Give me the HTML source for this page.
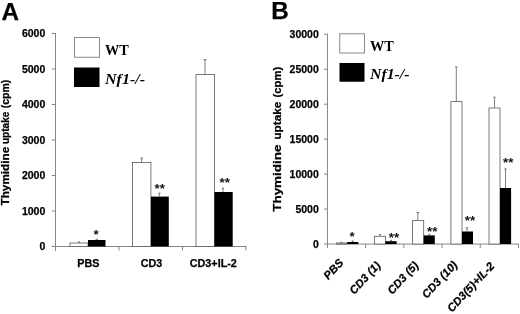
<!DOCTYPE html>
<html><head><meta charset="utf-8"><title>Figure</title>
<style>
html,body{margin:0;padding:0;background:#fff;}
svg{display:block}
.s{font-family:"Liberation Sans",Arial,sans-serif;font-weight:bold;fill:#000;stroke:#000;stroke-width:0.25px}
.si{font-family:"Liberation Sans",Arial,sans-serif;font-weight:bold;font-style:italic;fill:#000;stroke:#000;stroke-width:0.25px}
.st{font-family:"Liberation Sans",Arial,sans-serif;font-weight:bold;fill:#111}
.se{font-family:"Liberation Serif","DejaVu Serif",serif;font-weight:bold;fill:#000}
.sei{font-family:"Liberation Serif","DejaVu Serif",serif;font-weight:bold;font-style:italic;fill:#000}
</style></head><body>
<svg width="520" height="314" viewBox="0 0 520 314">
<rect width="520" height="314" fill="#fff"/>
<line x1="55.5" y1="33" x2="55.5" y2="251" stroke="#858585" stroke-width="1"/>
<line x1="55.5" y1="246.5" x2="246.5" y2="246.5" stroke="#858585" stroke-width="1"/>
<line x1="51.7" y1="246.5" x2="55.5" y2="246.5" stroke="#858585" stroke-width="1"/>
<text x="45.3" y="250.3" font-size="10.5" text-anchor="end" class="s" >0</text>
<line x1="51.7" y1="211.0" x2="55.5" y2="211.0" stroke="#858585" stroke-width="1"/>
<text x="45.3" y="214.8" font-size="10.5" text-anchor="end" class="s" >1000</text>
<line x1="51.7" y1="175.5" x2="55.5" y2="175.5" stroke="#858585" stroke-width="1"/>
<text x="45.3" y="179.3" font-size="10.5" text-anchor="end" class="s" >2000</text>
<line x1="51.7" y1="140.0" x2="55.5" y2="140.0" stroke="#858585" stroke-width="1"/>
<text x="45.3" y="143.8" font-size="10.5" text-anchor="end" class="s" >3000</text>
<line x1="51.7" y1="104.5" x2="55.5" y2="104.5" stroke="#858585" stroke-width="1"/>
<text x="45.3" y="108.3" font-size="10.5" text-anchor="end" class="s" >4000</text>
<line x1="51.7" y1="69.0" x2="55.5" y2="69.0" stroke="#858585" stroke-width="1"/>
<text x="45.3" y="72.8" font-size="10.5" text-anchor="end" class="s" >5000</text>
<line x1="51.7" y1="33.5" x2="55.5" y2="33.5" stroke="#858585" stroke-width="1"/>
<text x="45.3" y="37.3" font-size="10.5" text-anchor="end" class="s" >6000</text>
<line x1="119" y1="246.5" x2="119" y2="250.5" stroke="#858585" stroke-width="1"/>
<line x1="182.5" y1="246.5" x2="182.5" y2="250.5" stroke="#858585" stroke-width="1"/>
<line x1="246" y1="246.5" x2="246" y2="250.5" stroke="#858585" stroke-width="1"/>
<rect x="70" y="243" width="18.00" height="3.50" fill="#fff" stroke="#5a5a5a" stroke-width="0.8"/>
<rect x="88" y="240" width="17.50" height="6.50" fill="#000"/>
<rect x="132.5" y="162.5" width="18.40" height="84.00" fill="#fff" stroke="#5a5a5a" stroke-width="0.8"/>
<rect x="150.9" y="196.6" width="17.90" height="49.90" fill="#000"/>
<rect x="196" y="74.4" width="18.40" height="172.10" fill="#fff" stroke="#5a5a5a" stroke-width="0.8"/>
<rect x="214.4" y="192" width="18.30" height="54.50" fill="#000"/>
<line x1="79" y1="243" x2="79" y2="242" stroke="#606060" stroke-width="0.8"/>
<line x1="78" y1="242" x2="80" y2="242" stroke="#606060" stroke-width="0.9"/>
<line x1="96.7" y1="240" x2="96.7" y2="239.3" stroke="#606060" stroke-width="0.8"/>
<line x1="95.7" y1="239.3" x2="97.7" y2="239.3" stroke="#606060" stroke-width="0.9"/>
<line x1="141.6" y1="162.5" x2="141.6" y2="158" stroke="#606060" stroke-width="0.8"/>
<line x1="140.4" y1="158" x2="142.79999999999998" y2="158" stroke="#606060" stroke-width="0.9"/>
<line x1="159.3" y1="196.6" x2="159.3" y2="193.2" stroke="#606060" stroke-width="0.8"/>
<line x1="158.10000000000002" y1="193.2" x2="160.5" y2="193.2" stroke="#606060" stroke-width="0.9"/>
<line x1="205" y1="74.4" x2="205" y2="59.7" stroke="#606060" stroke-width="0.8"/>
<line x1="203.5" y1="59.7" x2="206.5" y2="59.7" stroke="#606060" stroke-width="0.9"/>
<line x1="223" y1="192" x2="223" y2="188.2" stroke="#606060" stroke-width="0.8"/>
<line x1="221.8" y1="188.2" x2="224.2" y2="188.2" stroke="#606060" stroke-width="0.9"/>
<text x="96" y="238.6" font-size="13.3" text-anchor="middle" class="st" >*</text>
<text x="159.8" y="192.8" font-size="13.3" text-anchor="middle" class="st" >**</text>
<text x="224.75" y="186.8" font-size="13.3" text-anchor="middle" class="st" >**</text>
<text x="88.4" y="267.2" font-size="10.8" text-anchor="middle" class="s" >PBS</text>
<text x="151.5" y="267.2" font-size="10.8" text-anchor="middle" class="s" >CD3</text>
<text x="213.3" y="267.2" font-size="10.8" text-anchor="middle" class="s" >CD3+IL-2</text>
<text transform="translate(8.65,205.5) rotate(-90)" font-size="10.6" class="s" textLength="58.8" lengthAdjust="spacingAndGlyphs">Thymidine</text>
<text transform="translate(8.65,144) rotate(-90)" font-size="10.6" class="s" textLength="32.3" lengthAdjust="spacingAndGlyphs">uptake</text>
<text transform="translate(8.65,108.3) rotate(-90)" font-size="10.6" class="s" textLength="28.5" lengthAdjust="spacingAndGlyphs">(cpm)</text>
<text x="1.6" y="19.6" font-size="24.3" text-anchor="start" class="s" >A</text>
<rect x="74.5" y="37.5" width="25" height="19.75" fill="#fff" stroke="#8a8a8a"/>
<rect x="74" y="67.5" width="25.5" height="19.5" fill="#000"/>
<text x="105" y="54.75" font-size="14" text-anchor="start" class="se" textLength="23.8" lengthAdjust="spacingAndGlyphs">WT</text>
<text x="105" y="84" font-size="14" text-anchor="start" class="sei" textLength="40" lengthAdjust="spacingAndGlyphs">Nf1-/-</text>
<line x1="327.45" y1="33.8" x2="327.45" y2="248" stroke="#858585" stroke-width="1"/>
<line x1="327.45" y1="244.05" x2="518.7" y2="244.05" stroke="#858585" stroke-width="1"/>
<line x1="324" y1="244.05" x2="327.45" y2="244.05" stroke="#858585" stroke-width="1"/>
<text x="318.8" y="248.05" font-size="11.3" text-anchor="end" class="s" textLength="5.8" lengthAdjust="spacingAndGlyphs">0</text>
<line x1="324" y1="209.09" x2="327.45" y2="209.09" stroke="#858585" stroke-width="1"/>
<text x="318.8" y="213.09" font-size="11.3" text-anchor="end" class="s" textLength="23.4" lengthAdjust="spacingAndGlyphs">5000</text>
<line x1="324" y1="174.13" x2="327.45" y2="174.13" stroke="#858585" stroke-width="1"/>
<text x="318.8" y="178.13" font-size="11.3" text-anchor="end" class="s" textLength="29.2" lengthAdjust="spacingAndGlyphs">10000</text>
<line x1="324" y1="139.17000000000002" x2="327.45" y2="139.17000000000002" stroke="#858585" stroke-width="1"/>
<text x="318.8" y="143.17000000000002" font-size="11.3" text-anchor="end" class="s" textLength="29.2" lengthAdjust="spacingAndGlyphs">15000</text>
<line x1="324" y1="104.21000000000001" x2="327.45" y2="104.21000000000001" stroke="#858585" stroke-width="1"/>
<text x="318.8" y="108.21000000000001" font-size="11.3" text-anchor="end" class="s" textLength="29.2" lengthAdjust="spacingAndGlyphs">20000</text>
<line x1="324" y1="69.25" x2="327.45" y2="69.25" stroke="#858585" stroke-width="1"/>
<text x="318.8" y="73.25" font-size="11.3" text-anchor="end" class="s" textLength="29.2" lengthAdjust="spacingAndGlyphs">25000</text>
<line x1="324" y1="34.29000000000002" x2="327.45" y2="34.29000000000002" stroke="#858585" stroke-width="1"/>
<text x="318.8" y="38.29000000000002" font-size="11.3" text-anchor="end" class="s" textLength="29.2" lengthAdjust="spacingAndGlyphs">30000</text>
<line x1="365.65" y1="244.05" x2="365.65" y2="248" stroke="#858585" stroke-width="1"/>
<line x1="403.85" y1="244.05" x2="403.85" y2="248" stroke="#858585" stroke-width="1"/>
<line x1="442.05" y1="244.05" x2="442.05" y2="248" stroke="#858585" stroke-width="1"/>
<line x1="480.25" y1="244.05" x2="480.25" y2="248" stroke="#858585" stroke-width="1"/>
<line x1="518.45" y1="244.05" x2="518.45" y2="248" stroke="#858585" stroke-width="1"/>
<rect x="336.3" y="243" width="10.90" height="1.05" fill="#fff" stroke="#5a5a5a" stroke-width="0.8"/>
<rect x="347.2" y="242" width="11.10" height="2.05" fill="#000"/>
<rect x="374.5" y="236.3" width="10.90" height="7.75" fill="#fff" stroke="#5a5a5a" stroke-width="0.8"/>
<rect x="385.4" y="241.2" width="11.20" height="2.85" fill="#000"/>
<rect x="412.6" y="220.4" width="11.10" height="23.65" fill="#fff" stroke="#5a5a5a" stroke-width="0.8"/>
<rect x="423.7" y="235.4" width="11.10" height="8.65" fill="#000"/>
<rect x="450.9" y="101.6" width="11.10" height="142.45" fill="#fff" stroke="#5a5a5a" stroke-width="0.8"/>
<rect x="462" y="231.5" width="11.00" height="12.55" fill="#000"/>
<rect x="489" y="108" width="11.00" height="136.05" fill="#fff" stroke="#5a5a5a" stroke-width="0.8"/>
<rect x="500" y="188" width="11.10" height="56.05" fill="#000"/>
<line x1="341.5" y1="243" x2="341.5" y2="242.3" stroke="#606060" stroke-width="0.8"/>
<line x1="340.5" y1="242.3" x2="342.5" y2="242.3" stroke="#606060" stroke-width="0.9"/>
<line x1="352.5" y1="242" x2="352.5" y2="241" stroke="#606060" stroke-width="0.8"/>
<line x1="351.5" y1="241" x2="353.5" y2="241" stroke="#606060" stroke-width="0.9"/>
<line x1="380" y1="236.25" x2="380" y2="234.5" stroke="#606060" stroke-width="0.8"/>
<line x1="379" y1="234.5" x2="381" y2="234.5" stroke="#606060" stroke-width="0.9"/>
<line x1="391" y1="241.25" x2="391" y2="240.3" stroke="#606060" stroke-width="0.8"/>
<line x1="390" y1="240.3" x2="392" y2="240.3" stroke="#606060" stroke-width="0.9"/>
<line x1="417.8" y1="220.4" x2="417.8" y2="212.5" stroke="#606060" stroke-width="0.8"/>
<line x1="416.6" y1="212.5" x2="419.0" y2="212.5" stroke="#606060" stroke-width="0.9"/>
<line x1="429.4" y1="235.4" x2="429.4" y2="234.4" stroke="#606060" stroke-width="0.8"/>
<line x1="428.4" y1="234.4" x2="430.4" y2="234.4" stroke="#606060" stroke-width="0.9"/>
<line x1="456.3" y1="101.6" x2="456.3" y2="67" stroke="#606060" stroke-width="0.8"/>
<line x1="455.1" y1="67" x2="457.5" y2="67" stroke="#606060" stroke-width="0.9"/>
<line x1="467" y1="231.5" x2="467" y2="227.8" stroke="#606060" stroke-width="0.8"/>
<line x1="465.8" y1="227.8" x2="468.2" y2="227.8" stroke="#606060" stroke-width="0.9"/>
<line x1="494.5" y1="108" x2="494.5" y2="97.2" stroke="#606060" stroke-width="0.8"/>
<line x1="493.3" y1="97.2" x2="495.7" y2="97.2" stroke="#606060" stroke-width="0.9"/>
<line x1="505.5" y1="188" x2="505.5" y2="169" stroke="#606060" stroke-width="0.8"/>
<line x1="504.3" y1="169" x2="506.7" y2="169" stroke="#606060" stroke-width="0.9"/>
<text x="352" y="240.6" font-size="13.3" text-anchor="middle" class="st" >*</text>
<text x="394" y="241.6" font-size="13.3" text-anchor="middle" class="st" >**</text>
<text x="432.3" y="235.6" font-size="13.3" text-anchor="middle" class="st" >**</text>
<text x="470" y="224.6" font-size="13.3" text-anchor="middle" class="st" >**</text>
<text x="508.3" y="166.6" font-size="13.3" text-anchor="middle" class="st" >**</text>
<text transform="translate(344.2,263.2) rotate(-47)" font-size="11.3" text-anchor="end" class="si">PBS</text>
<text transform="translate(381.2,266) rotate(-47)" font-size="11.3" text-anchor="end" class="si">CD3 (1)</text>
<text transform="translate(419.2,266) rotate(-47)" font-size="11.3" text-anchor="end" class="si">CD3 (5)</text>
<text transform="translate(458,265.5) rotate(-47)" font-size="11.3" text-anchor="end" class="si">CD3 (10)</text>
<text transform="translate(495,266.6) rotate(-47)" font-size="11.3" text-anchor="end" class="si">CD3(5)+IL-2</text>
<text transform="translate(281.4,211.8) rotate(-90)" font-size="10.8" class="s" textLength="67.3" lengthAdjust="spacingAndGlyphs">Thymidine</text>
<text transform="translate(281.4,139.6) rotate(-90)" font-size="10.8" class="s" textLength="37.9" lengthAdjust="spacingAndGlyphs">uptake</text>
<text transform="translate(281.4,97.4) rotate(-90)" font-size="10.8" class="s" textLength="30.7" lengthAdjust="spacingAndGlyphs">(cpm)</text>
<text x="271.3" y="19.4" font-size="24.3" text-anchor="start" class="s" >B</text>
<rect x="339.75" y="33.75" width="24.75" height="19.25" fill="#fff" stroke="#8a8a8a"/>
<rect x="339.5" y="63" width="25" height="18.75" fill="#000"/>
<text x="370" y="50.5" font-size="14" text-anchor="start" class="se" textLength="23.8" lengthAdjust="spacingAndGlyphs">WT</text>
<text x="370" y="79.25" font-size="14" text-anchor="start" class="sei" textLength="39.5" lengthAdjust="spacingAndGlyphs">Nf1-/-</text>
</svg>
</body></html>
